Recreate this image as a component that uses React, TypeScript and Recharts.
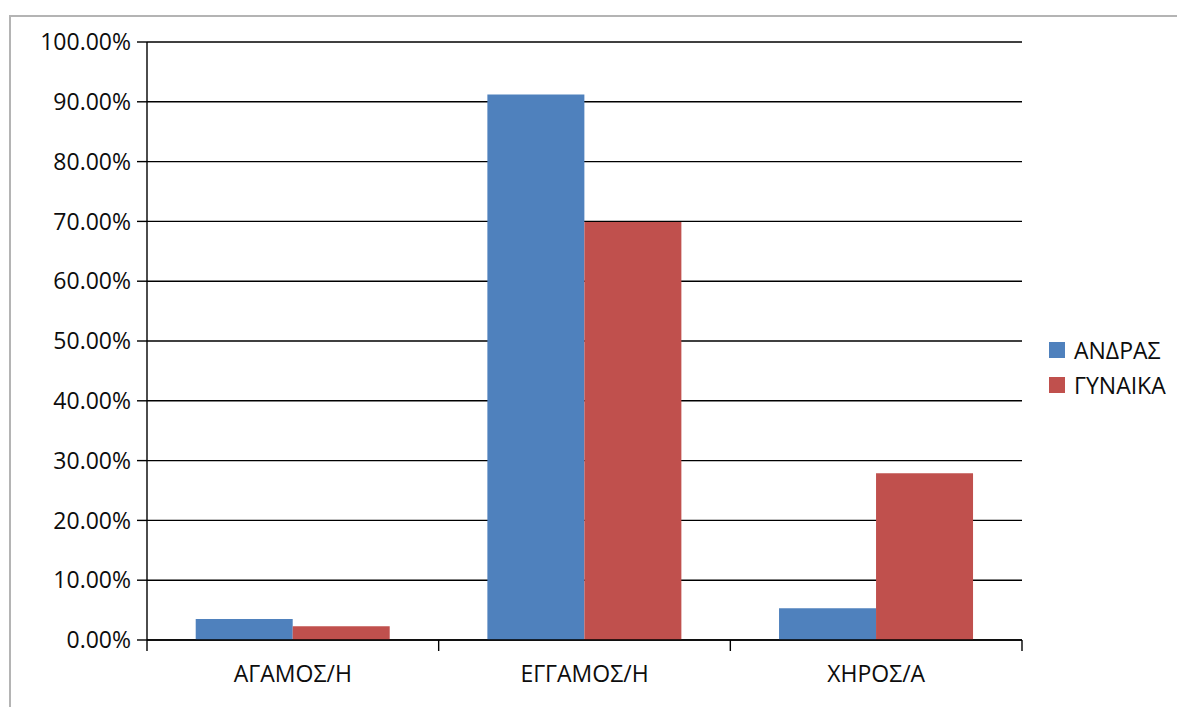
import React from "react";
import { BarChart, Bar, XAxis, YAxis, CartesianGrid } from "recharts";

// Marital status categories and share per gender (percent)
const categories = ["ΑΓΑΜΟΣ/Η", "ΕΓΓΑΜΟΣ/Η", "ΧΗΡΟΣ/Α"];
const andras = [3.5, 91.2, 5.3];
const gynaika = [2.3, 69.9, 27.9];
const yTicks = [0, 10, 20, 30, 40, 50, 60, 70, 80, 90, 100];

const seriesNames = ["ΑΝΔΡΑΣ", "ΓΥΝΑΙΚΑ"];
const seriesColors = ["#4f81bd", "#c0504d"];

const data = categories.map((c, i) => ({
  name: c,
  andras: andras[i],
  gynaika: gynaika[i],
}));

const FONT = "'Open Sans', 'Noto Sans', sans-serif";
const FONT_SIZE = 23;
const TEXT = "#0d0d0d";
const CHART_W = 1177;
const CHART_H = 699;
const MARGIN = { top: 34, right: 163, bottom: 0, left: 0 };
const Y_W = 139;
const X_H = 67;
const PLOT_W = CHART_W - MARGIN.left - MARGIN.right - Y_W;

// Category label centred in its band, with separator ticks on the band edges
const CategoryTick = (props: any) => {
  const { x, y, payload, index } = props;
  const half =
    payload && typeof payload.offset === "number" && payload.offset > 0
      ? payload.offset
      : PLOT_W / categories.length / 2;
  const last = index === categories.length - 1;
  return (
    <g>
      <line x1={x - half} x2={x - half} y1={y} y2={y + 11} stroke="#000" strokeWidth={1.4} />
      {last && (
        <line x1={x + half} x2={x + half} y1={y} y2={y + 11} stroke="#000" strokeWidth={1.4} />
      )}
      <text
        x={x}
        y={y + 42}
        textAnchor="middle"
        fill={TEXT}
        fontSize={FONT_SIZE}
        fontFamily={FONT}
      >
        {payload.value}
      </text>
    </g>
  );
};

export default function App() {
  return (
    <div
      style={{
        position: "relative",
        width: CHART_W,
        height: CHART_H,
        overflow: "hidden",
        background: "#fff",
      }}
    >
      <div
        style={{
          position: "absolute",
          left: 1,
          top: 7,
          width: 1400,
          height: 900,
          borderTop: "2px solid #b4b4b4",
          borderLeft: "2px solid #b4b4b4",
        }}
      />
      <div style={{ position: "absolute", left: 0, top: 0 }}>
        <BarChart
          width={CHART_W}
          height={CHART_H}
          data={data}
          margin={MARGIN}
          barCategoryGap="16.7%"
          barGap={0}
        >
          <CartesianGrid vertical={false} stroke="#000" strokeWidth={1.4} />
          <XAxis
            dataKey="name"
            height={X_H}
            axisLine={{ stroke: "#000", strokeWidth: 1.4 }}
            tickLine={false}
            tickSize={0}
            tickMargin={0}
            interval={0}
            tick={<CategoryTick />}
          />
          <YAxis
            width={Y_W}
            domain={[0, 100]}
            ticks={yTicks}
            interval={0}
            tickFormatter={(v: number) => `${v.toFixed(2)}%`}
            axisLine={{ stroke: "#000", strokeWidth: 1.4 }}
            tickLine={{ stroke: "#000", strokeWidth: 1.4 }}
            tickSize={10}
            tickMargin={6}
            tick={{ fill: TEXT, fontSize: FONT_SIZE, fontFamily: FONT }}
          />
          <YAxis
            yAxisId="edge"
            orientation="right"
            width={0}
            tick={false}
            tickLine={false}
            axisLine={{ stroke: "#d9d9d9", strokeWidth: 1.5 }}
          />
          <Bar dataKey="andras" name={seriesNames[0]} fill={seriesColors[0]} isAnimationActive={false} />
          <Bar dataKey="gynaika" name={seriesNames[1]} fill={seriesColors[1]} isAnimationActive={false} />
        </BarChart>
      </div>
      <div
        style={{
          position: "absolute",
          left: 1041,
          top: 324,
          fontFamily: FONT,
          fontSize: FONT_SIZE,
          color: TEXT,
        }}
      >
        {seriesNames.map((n, i) => (
          <div
            key={n}
            style={{ display: "flex", alignItems: "center", height: 35 }}
          >
            <span
              style={{
                display: "inline-block",
                width: 16,
                height: 16,
                background: seriesColors[i],
                marginRight: 9,
              }}
            />
            <span>{n}</span>
          </div>
        ))}
      </div>
    </div>
  );
}
